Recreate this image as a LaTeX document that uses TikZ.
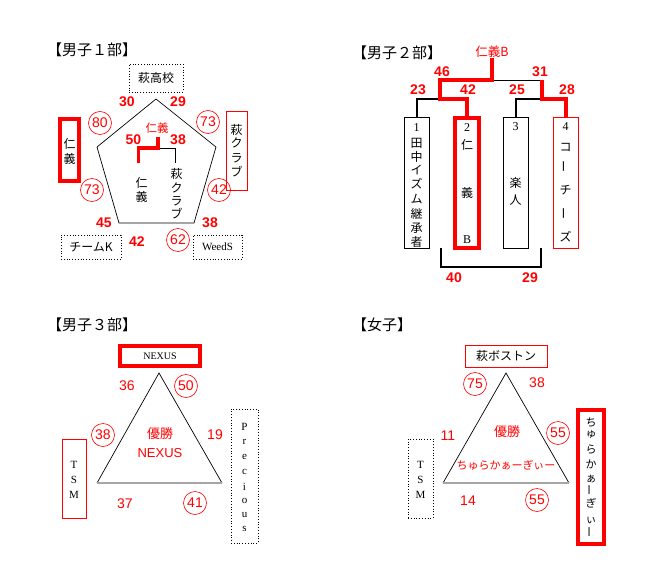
\documentclass[tikz,border=0pt]{standalone}
\usepackage{graphicx}
\usepackage{fontspec}
\setmainfont{Liberation Serif}
\newfontfamily\jp{Noto Sans CJK JP}
\newfontfamily\numf{Liberation Sans}
\newcommand\lat[1]{{\rmfamily #1}}
\newcommand\vchoon{\rotatebox{90}{ー}}
\newcommand\vcolumn[4]{\foreach \ch/\yy [count=\i] in {#4} {\node[#3] (#1-\i) at (#2,\yy) {\ch};}}
\tikzset{
 every node/.style={inner sep=0pt},
 num/.style={text=red, font=\numf\bfseries\fontsize{14}{14}\selectfont},
 numr/.style={text=red, font=\numf\fontsize{14}{14}\selectfont},
 cnum/.style={numr, draw=red, line width=0.6pt, circle, minimum size=23pt},
 ttl/.style={font=\jp\fontsize{15}{15}\selectfont, anchor=west},
 lbl/.style={font=\jp\fontsize{12}{12}\selectfont},
 slbl/.style={font=\jp\fontsize{11}{11}\selectfont},
 llbl/.style={font=\rmfamily\fontsize{11}{11}\selectfont},
 dotbox/.style={draw, dotted, line width=0.8pt},
 redbox/.style={draw=red, line width=0.9pt},
 thickred/.style={draw=red, line width=4pt},
 blackbox/.style={draw, line width=0.8pt},
 thin/.style={line width=0.7pt},
 bk2/.style={line width=2pt},
 rk/.style={draw=red, line width=4pt},
 redtxt/.style={text=red},
}
\begin{document}
\begin{tikzpicture}[x=1pt,y=-1pt]
\fill[white] (0,0) rectangle (653,578);
\useasboundingbox (0,0) rectangle (653,578);

% ================= Q1 =================
\node[ttl] (t1) at (47,50) {【男子１部】};
\node[dotbox,lbl,minimum width=54,minimum height=28] (hk) at (156,78) {萩高校};
\draw[thin] (156,99) -- (216,147) -- (194,223) -- (119,223) -- (97,147) -- cycle;
\node[thickred, minimum width=19, minimum height=62] (jg) at (69.5,150) {};
\vcolumn{jgt}{69.5}{lbl}{仁/144,義/159}
\node[redbox, minimum width=21, minimum height=79] (hc) at (236.5,150.5) {};
\vcolumn{hct}{236.5}{lbl}{萩/130,ク/143,ラ/158,ブ/172}
\node[dotbox,lbl,minimum width=60,minimum height=24] (tk) at (91,247) {チームK};
\node[dotbox,llbl,minimum width=49,minimum height=24] (wd) at (217.5,247) {WeedS};
\node[num] (n1a) at (127,102) {30};
\node[num] (n1b) at (178,102) {29};
\node[cnum] (n1c) at (100,123) {80};
\node[cnum] (n1d) at (208,122) {73};
\node[cnum] (n1e) at (92,190) {73};
\node[cnum] (n1f) at (219,190) {42};
\node[num] (n1g) at (104,223) {45};
\node[num] (n1h) at (137,242) {42};
\node[cnum] (n1i) at (178,240) {62};
\node[num] (n1j) at (210,223) {38};
\node[redtxt, font=\jp\fontsize{11.5}{11.5}\selectfont] (w1) at (157,128) {仁義};
\node[num] (n1k) at (133.5,140) {50};
\node[num] (n1l) at (178,140) {38};
\coordinate (f1) at (158,136.5);
\coordinate (f1m) at (158,148);
\coordinate (f1l) at (138.7,163);
\coordinate (f1r) at (175.5,163);
\draw[line width=0.8pt] (f1m) -| (f1r);
\draw[red, line width=3.2pt] (f1) -- (f1m) -| (f1l);
\vcolumn{p1a}{141.7}{lbl}{仁/183,義/197}
\vcolumn{p1b}{176.7}{lbl}{萩/174,ク/188,ラ/201.5,ブ/214}

% ================= Q2 =================
\node[ttl] (t2) at (352,53) {【男子２部】};
\node[redtxt, font=\jp\fontsize{12.5}{12.5}\selectfont] (jgb) at (492,52) {仁義B};
\node[blackbox, minimum width=25, minimum height=131] (b1) at (416.5,182.5) {};
\node[thickred, minimum width=24, minimum height=130] (b2) at (467,183) {};
\node[blackbox, minimum width=25, minimum height=131] (b3) at (515.5,182.5) {};
\node[redbox, minimum width=25, minimum height=131] (b4) at (565.5,182.5) {};
\coordinate (top2) at (492,80);
\coordinate (tr2) at (542,80);
\coordinate (jl) at (440,99);
\coordinate (jr) at (542,99);
\draw[bk2] (b1.north) |- (jl);
\draw[bk2] (b3.north) |- (jr);
\draw[line width=0.8pt] (top2) -- (tr2);
\draw[red, line width=4pt] (jgb.south) -- (top2) -| (jl) -| (b2.north);
\draw[red, line width=4pt] (tr2) -- (jr) -| (b4.north);
\coordinate (bl) at (441,248);
\coordinate (bl2) at (441,267);
\coordinate (br2) at (541,267);
\coordinate (br) at (541,248);
\draw[bk2] (bl) -- (bl2) -- (br2) -- (br);
\node[num] (n2a) at (442,72) {46};
\node[num] (n2b) at (540,72) {31};
\node[num] (n2c) at (418,90) {23};
\node[num] (n2d) at (468,90) {42};
\node[num] (n2e) at (517,90) {25};
\node[num] (n2f) at (567,90) {28};
\node[num] (n2g) at (454,278) {40};
\node[num] (n2h) at (530,278) {29};
\vcolumn{b1t}{416.5}{lbl}{\lat{1}/128,田/143,中/157,イ/170,ズ/184,ム/199,継/214,承/228.5,者/242}
\vcolumn{b2t}{467}{lbl}{\lat{2}/128,仁/145,義/193,\lat{B}/240}
\vcolumn{b3t}{515.5}{lbl}{\lat{3}/127,楽/183,人/200}
\vcolumn{b4t}{565.5}{lbl}{\lat{4}/127,コ/147,\vchoon/166,チ/190,\vchoon/213,ズ/237}

% ================= Q3 =================
\node[ttl] (t3) at (47,325) {【男子３部】};
\node[thickred, font=\rmfamily\fontsize{10}{10}\selectfont, minimum width=80, minimum height=20] (nx) at (160,356) {NEXUS};
\draw[thin] (97,483) -- (159,373) -- (222,483);
\draw[gray!70, line width=2pt] (97,483) -- (222,483);
\node[redbox, minimum width=24, minimum height=79] (tsm3) at (74,478.5) {};
\vcolumn{tsm3t}{74}{llbl}{T/465,S/480,M/495}
\node[dotbox, minimum width=27, minimum height=134] (pr) at (244.5,476) {};
\vcolumn{prt}{244.5}{llbl}{P/427,r/442,e/457,c/472,i/486.5,o/501,u/515,s/529}
\node[numr] (n3a) at (127,386) {36};
\node[cnum] (n3b) at (186,386) {50};
\node[cnum] (n3c) at (103,435) {38};
\node[numr] (n3d) at (215,435) {19};
\node[numr] (n3e) at (125,504) {37};
\node[cnum] (n3f) at (195,503) {41};
\node[redtxt, font=\jp\fontsize{13}{13}\selectfont] (y3) at (160,434) {優勝};
\node[redtxt, font=\numf\fontsize{13}{13}\selectfont] (w3) at (160,453) {NEXUS};

% ================= Q4 =================
\node[ttl] (t4) at (352,325) {【女子】};
\node[redbox, lbl, minimum width=82, minimum height=22] (hb) at (506,356) {萩ボストン};
\draw[thin] (443,483) -- (506,373) -- (569,483);
\draw[gray!70, line width=2pt] (443,483) -- (569,483);
\node[dotbox, minimum width=25, minimum height=79] (tsm4) at (420.5,478.5) {};
\vcolumn{tsm4t}{420.5}{llbl}{T/465,S/480,M/495}
\node[thickred, minimum width=26, minimum height=134] (cg) at (591,477) {};
\vcolumn{cgt}{591}{slbl}{ち/423,ゅ/435,ら/450,か/464,ぁ/479,\vchoon/490,ぎ/503,ぃ/520,\vchoon/532}
\node[cnum] (n4a) at (475,384) {75};
\node[numr] (n4b) at (537,383) {38};
\node[numr] (n4c) at (448,436) {11};
\node[cnum] (n4d) at (558,433) {55};
\node[numr] (n4e) at (468,501) {14};
\node[cnum] (n4f) at (537,500) {55};
\node[redtxt, font=\jp\fontsize{13}{13}\selectfont] (y4) at (507,432) {優勝};
\node[redtxt, font=\jp\fontsize{11}{11}\selectfont] (w4) at (506,465) {ちゅらかぁーぎぃー};
\end{tikzpicture}
\end{document}
